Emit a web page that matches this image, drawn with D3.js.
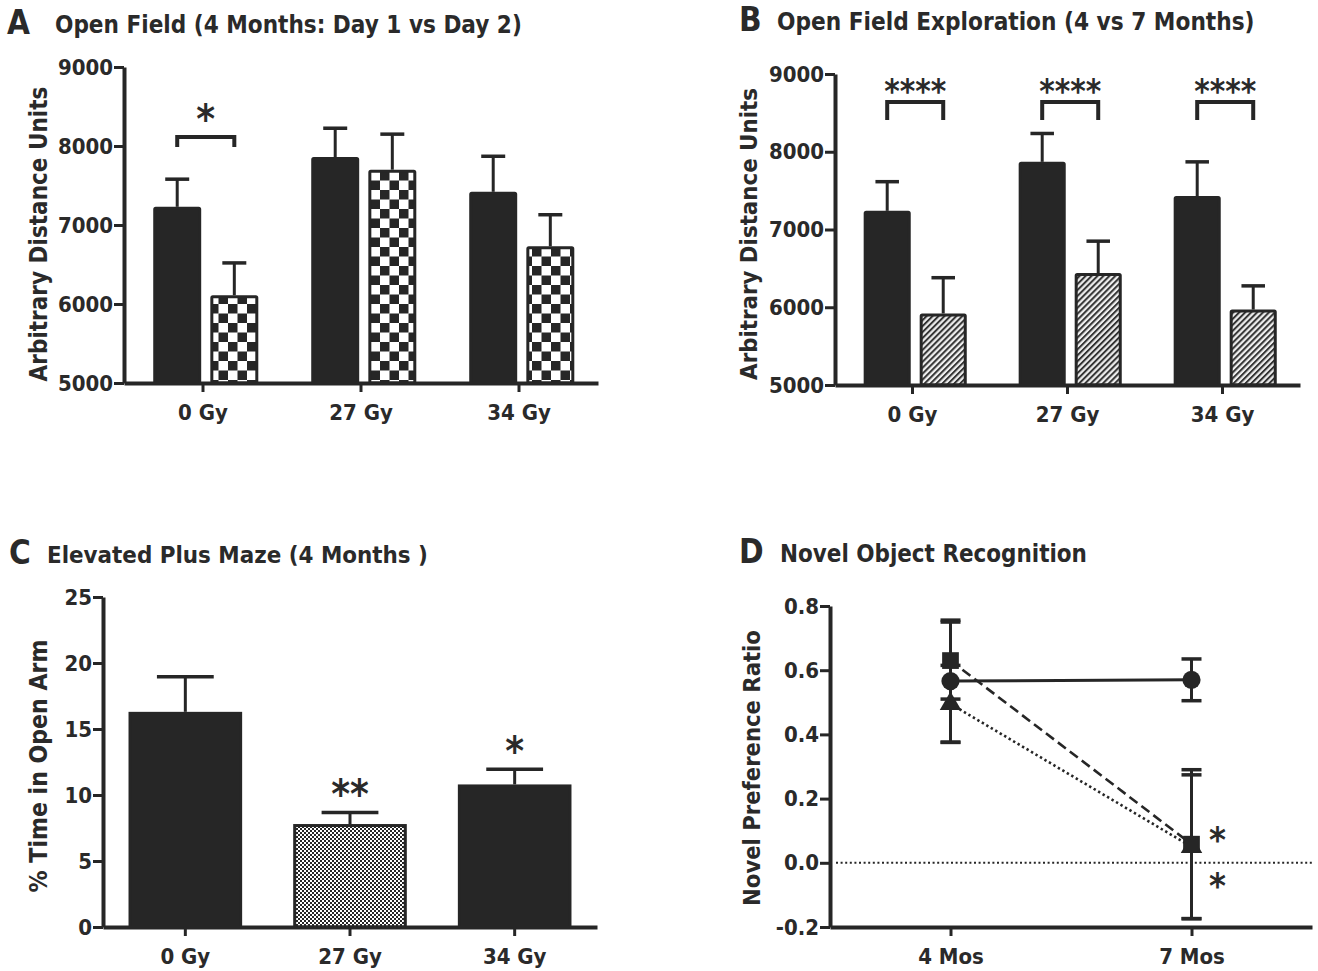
<!DOCTYPE html>
<html><head><meta charset="utf-8">
<script src="https://cdn.jsdelivr.net/npm/d3@7"></script>
<style>
body{margin:0;background:#fff;}
svg text{font-family:"DejaVu Sans Condensed","DejaVu Sans",sans-serif;font-weight:bold;fill:#2a2a2a;}
</style></head><body>
<svg id="chart" width="1318" height="971"></svg>
<script>
// ---------------- DATA ----------------
const doseGroups = ["0 Gy", "27 Gy", "34 Gy"];
const distanceTicks = [5000, 6000, 7000, 8000, 9000];

// Panel A: Open Field, 4 months, Day 1 (solid) vs Day 2 (checker)
const aDay1Mean = [7230, 7860, 7420];
const aDay1Err  = [350, 365, 450];
const aDay2Mean = [6110, 7700, 6730];
const aDay2Err  = [410, 450, 400];
const aSig      = ["*", "", ""];

// Panel B: Open Field Exploration, 4 months (solid) vs 7 months (hatched)
const b4MoMean = [7240, 7870, 7430];
const b4MoErr  = [375, 365, 440];
const b7MoMean = [5920, 6440, 5970];
const b7MoErr  = [460, 410, 305];
const bSig     = ["****", "****", "****"];

// Panel C: Elevated Plus Maze, 4 months
const percentTicks = [0, 5, 10, 15, 20, 25];
const cMean = [16.3, 7.8, 10.8];
const cErr  = [2.65, 0.88, 1.15];
const cSig  = ["", "**", "*"];

// Panel D: Novel Object Recognition
const ageGroups  = ["4 Mos", "7 Mos"];
const ratioTicks = [-0.2, 0.0, 0.2, 0.4, 0.6, 0.8];
const d0GyMean  = [0.566, 0.570];
const d0GyErr   = [0.190, 0.065];
const d27GyMean = [0.630, 0.058];
const d27GyErr  = [0.120, 0.232];
const d34GyMean = [0.495, 0.050];
const d34GyErr  = [0.120, 0.224];
const dSig7Mos  = ["*", "*"];

// ---------------- DRAWING ----------------
const DARK = "#262626";
const svg = d3.select("#chart");
const defs = svg.append("defs");

// checker pattern (panel A)
const pc = defs.append("pattern").attr("id", "checker").attr("patternUnits", "userSpaceOnUse")
  .attr("width", 19).attr("height", 19);
pc.append("rect").attr("width", 19).attr("height", 19).attr("fill", "#fff");
pc.append("rect").attr("width", 9.5).attr("height", 9.5).attr("fill", DARK);
pc.append("rect").attr("x", 9.5).attr("y", 9.5).attr("width", 9.5).attr("height", 9.5).attr("fill", DARK);

// hatch pattern (panel B)
const ph = defs.append("pattern").attr("id", "hatch").attr("patternUnits", "userSpaceOnUse")
  .attr("width", 4.2).attr("height", 4.2).attr("patternTransform", "rotate(45)");
ph.append("rect").attr("width", 4.2).attr("height", 4.2).attr("fill", "#eeeeee");
ph.append("line").attr("x1", 1).attr("x2", 1).attr("y1", 0).attr("y2", 4.2)
  .attr("stroke", "#333").attr("stroke-width", 2);

// fine checker (panel C)
const pf = defs.append("pattern").attr("id", "fine").attr("patternUnits", "userSpaceOnUse")
  .attr("width", 4).attr("height", 4);
pf.append("rect").attr("width", 4).attr("height", 4).attr("fill", "#fff");
pf.append("rect").attr("width", 2).attr("height", 2).attr("fill", DARK);
pf.append("rect").attr("x", 2).attr("y", 2).attr("width", 2).attr("height", 2).attr("fill", DARK);

function fitText(sel, target) {
  const n = sel.node();
  const fs = parseFloat(sel.attr("font-size"));
  const w = n.getComputedTextLength();
  if (w > 0) sel.attr("font-size", fs * target / w);
}

function panelTitle(letter, lx, text, tx, tWidth, baseline) {
  svg.append("text").attr("x", lx).attr("y", baseline + 1).attr("font-size", 33).text(letter);
  const t = svg.append("text").attr("x", tx).attr("y", baseline).attr("font-size", 25).text(text);
  fitText(t, tWidth);
}

function yLabel(text, cx, cy, len) {
  const t = svg.append("text").attr("transform", `translate(${cx},${cy}) rotate(-90)`)
    .attr("text-anchor", "middle").attr("dy", "0.36em").attr("font-size", 26).text(text);
  fitText(t, len);
}

function styleAxis(g, fs) {
  g.select(".domain").attr("stroke", DARK).attr("stroke-width", 4);
  g.selectAll(".tick line").attr("stroke", DARK).attr("stroke-width", 3);
  g.selectAll(".tick text").attr("font-size", fs).attr("fill", "#2a2a2a")
    .style("font-family", "'DejaVu Sans Condensed'").style("font-weight", "bold");
}

function drawAxes(x, y, yTicks, fmt, xLeft, yBottom) {
  const gy = svg.append("g").attr("transform", `translate(${xLeft},0)`)
    .call(d3.axisLeft(y).tickValues(yTicks).tickFormat(fmt).tickSize(10).tickSizeOuter(0).tickPadding(1));
  styleAxis(gy, 22);
  const gx = svg.append("g").attr("transform", `translate(0,${yBottom})`)
    .call(d3.axisBottom(x).tickSize(9).tickSizeOuter(0).tickPadding(12));
  styleAxis(gx, 22);
}

function star(text, cx, cy, fs) {
  svg.append("text").attr("x", cx).attr("y", cy + 0.55 * fs).attr("text-anchor", "middle")
    .attr("font-size", fs).text(text);
}

function errorBar(cx, yTop, yFrom, capW) {
  svg.append("line").attr("x1", cx).attr("x2", cx).attr("y1", yFrom).attr("y2", yTop)
    .attr("stroke", DARK).attr("stroke-width", 3);
  svg.append("line").attr("x1", cx - capW / 2).attr("x2", cx + capW / 2).attr("y1", yTop).attr("y2", yTop)
    .attr("stroke", DARK).attr("stroke-width", 3.5);
}

function groupedBars(cfg) {
  const x = d3.scaleBand().domain(doseGroups).range([cfg.x0, cfg.x1]);
  const y = d3.scaleLinear().domain([5000, 9000]).range([cfg.yb, cfg.yt]);
  const sub = d3.scaleBand().domain([0, 1])
    .range([x.bandwidth() * 0.185, x.bandwidth() * 0.85]).paddingInner(0.16);
  const series = [
    { mean: cfg.m1, err: cfg.e1, fill: DARK },
    { mean: cfg.m2, err: cfg.e2, fill: cfg.fill2 }
  ];
  series.forEach((s, si) => {
    doseGroups.forEach((g, i) => {
      const bx = x(g) + sub(si), bw = sub.bandwidth();
      errorBar(bx + bw / 2, y(s.mean[i] + s.err[i]), y(s.mean[i]), bw / 2);
      svg.append("rect").attr("x", bx + 1.5).attr("y", y(s.mean[i]) + 1.5)
        .attr("width", bw - 3).attr("height", cfg.yb - y(s.mean[i]) - 1.5)
        .attr("fill", s.fill).attr("stroke", DARK).attr("stroke-width", 3).attr("rx", 1);
    });
  });
  drawAxes(x, y, distanceTicks, d3.format("d"), cfg.x0, cfg.yb);
  // significance brackets
  doseGroups.forEach((g, i) => {
    if (!cfg.sig[i]) return;
    const c1 = x(g) + sub(0) + sub.bandwidth() / 2;
    const c2 = x(g) + sub(1) + sub.bandwidth() / 2;
    svg.append("path")
      .attr("d", `M${c1},${cfg.brTop + cfg.brLeg}V${cfg.brTop}H${c2}V${cfg.brTop + cfg.brLeg}`)
      .attr("fill", "none").attr("stroke", DARK).attr("stroke-width", 4);
    star(cfg.sig[i], (c1 + c2) / 2, cfg.starY, cfg.starFs);
  });
}

// ---- Panel A ----
panelTitle("A", 7, "Open Field (4 Months: Day 1 vs Day 2)", 55, 467, 33);
yLabel("Arbitrary Distance Units", 38, 234, 295);
groupedBars({ x0: 124, x1: 598, yb: 383, yt: 67, m1: aDay1Mean, e1: aDay1Err, m2: aDay2Mean, e2: aDay2Err,
  fill2: "url(#checker)", sig: aSig, brTop: 137, brLeg: 10, starY: 111, starFs: 40 });

// ---- Panel B ----
panelTitle("B", 739, "Open Field Exploration (4 vs 7 Months)", 777, 478, 30);
yLabel("Arbitrary Distance Units", 748, 234, 292);
groupedBars({ x0: 835, x1: 1300, yb: 385, yt: 74, m1: b4MoMean, e1: b4MoErr, m2: b7MoMean, e2: b7MoErr,
  fill2: "url(#hatch)", sig: bSig, brTop: 102, brLeg: 18, starY: 85, starFs: 33 });

// ---- Panel C ----
panelTitle("C", 9, "Elevated Plus Maze (4 Months )", 47, 381, 563);
yLabel("% Time in Open Arm", 38, 766, 253);
(function () {
  const x0 = 103, x1 = 597, yb = 927, yt = 597;
  const x = d3.scaleBand().domain(doseGroups).range([x0, x1]);
  const y = d3.scaleLinear().domain([0, 25]).range([yb, yt]);
  const bw = x.bandwidth() * 0.69;
  const fills = [DARK, "url(#fine)", DARK];
  doseGroups.forEach((g, i) => {
    const cx = x(g) + x.bandwidth() / 2;
    errorBar(cx, y(cMean[i] + cErr[i]), y(cMean[i]), bw / 2);
    svg.append("rect").attr("x", cx - bw / 2 + 1.5).attr("y", y(cMean[i]) + 1.5)
      .attr("width", bw - 3).attr("height", yb - y(cMean[i]) - 1.5)
      .attr("fill", fills[i]).attr("stroke", DARK).attr("stroke-width", 3);
    if (cSig[i]) star(cSig[i], cx, y(cMean[i] + cErr[i]) - 26, 40);
  });
  drawAxes(x, y, percentTicks, d3.format("d"), x0, yb);
})();

// ---- Panel D ----
panelTitle("D", 739, "Novel Object Recognition", 780, 307, 562);
yLabel("Novel Preference Ratio", 752, 768, 276);
(function () {
  const x0 = 830, x1 = 1312, yb = 927, yt = 606;
  const x = d3.scalePoint().domain(ageGroups).range([x0, x1]).padding(0.5);
  const y = d3.scaleLinear().domain([-0.2, 0.8]).range([yb, yt]);
  // zero reference line
  svg.append("line").attr("x1", x0 + 6).attr("x2", x1).attr("y1", y(0)).attr("y2", y(0))
    .attr("stroke", DARK).attr("stroke-width", 2).attr("stroke-dasharray", "2,2.6");
  const series = [
    { mean: d0GyMean, err: d0GyErr, dash: null, sym: d3.symbolCircle, size: 260 },
    { mean: d27GyMean, err: d27GyErr, dash: "10,5", sym: d3.symbolSquare, size: 280 },
    { mean: d34GyMean, err: d34GyErr, dash: "2.4,2.8", sym: d3.symbolTriangle, size: 200 }
  ];
  series.forEach(s => {
    ageGroups.forEach((g, i) => {
      const cx = x(g);
      const t = y(s.mean[i] + s.err[i]), b = y(s.mean[i] - s.err[i]);
      svg.append("line").attr("x1", cx).attr("x2", cx).attr("y1", t).attr("y2", b)
        .attr("stroke", DARK).attr("stroke-width", 3);
      [t, b].forEach(yy => svg.append("line").attr("x1", cx - 10).attr("x2", cx + 10)
        .attr("y1", yy).attr("y2", yy).attr("stroke", DARK).attr("stroke-width", 3.5));
    });
  });
  const line = d3.line().x((d, i) => x(ageGroups[i])).y(d => y(d));
  series.forEach(s => {
    svg.append("path").attr("d", line(s.mean)).attr("fill", "none").attr("stroke", DARK)
      .attr("stroke-width", s.dash ? 2.6 : 3).attr("stroke-dasharray", s.dash);
  });
  series.slice().reverse().forEach(s => {
    ageGroups.forEach((g, i) => {
      svg.append("path").attr("d", d3.symbol(s.sym, s.size)())
        .attr("transform", `translate(${x(g)},${y(s.mean[i])})`).attr("fill", DARK);
    });
  });
  const fmtRatio = v => d3.format(".1f")(v).replace("\u2212", "-");
  drawAxes(x, y, ratioTicks, fmtRatio, x0, yb);
  // significance stars next to 7 Mos
  star(dSig7Mos[0], x("7 Mos") + 26, y(d27GyMean[1]) - 12, 36);
  star(dSig7Mos[1], x("7 Mos") + 26, y(d34GyMean[1]) + 31, 36);
})();
</script>
</body></html>
